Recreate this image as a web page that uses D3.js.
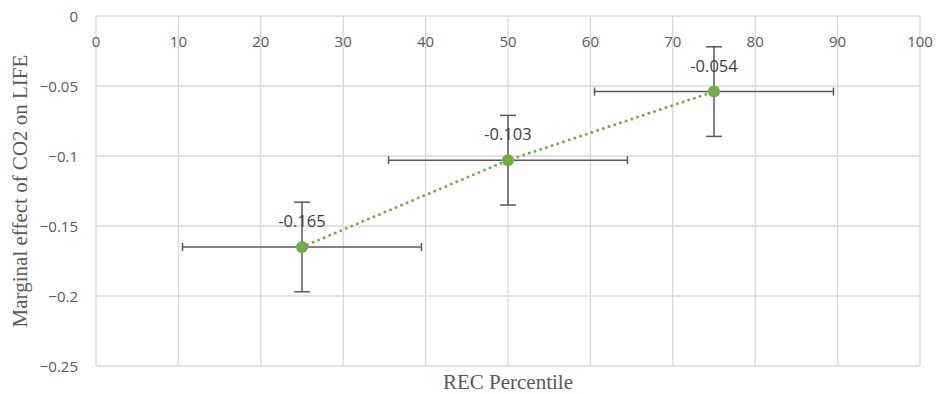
<!DOCTYPE html>
<html>
<head>
<meta charset="utf-8">
<script src="https://cdn.jsdelivr.net/npm/d3@7"></script>
<style>
  body { margin: 0; background: #fff; }
  svg { display: block; }
</style>
</head>
<body>
<svg id="chart" width="936" height="394"></svg>
<script>
// data
let percentiles = [25, 50, 75]
let effects = [-0.165, -0.103, -0.054]
let xErr = [14.5, 14.5, 14.5]
let yErr = [0.032, 0.032, 0.032]
let xTicks = [0, 10, 20, 30, 40, 50, 60, 70, 80, 90, 100]
let yTicks = [0, -0.05, -0.1, -0.15, -0.2, -0.25]

let svg = d3.select('#chart')
let plotLeft = 96, plotRight = 920, plotTop = 16, plotBottom = 366

let x = d3.scaleLinear().domain([0, 100]).range([plotLeft, plotRight])
let y = d3.scaleLinear().domain([-0.25, 0]).range([plotBottom, plotTop])

// grid
svg.append('g').selectAll('line').data(xTicks).join('line')
  .attr('x1', d => x(d)).attr('x2', d => x(d))
  .attr('y1', plotTop).attr('y2', plotBottom)
  .style('stroke', '#d9d9d9').style('stroke-width', 1.3)
svg.append('g').selectAll('line').data(yTicks).join('line')
  .attr('x1', plotLeft).attr('x2', plotRight)
  .attr('y1', d => y(d)).attr('y2', d => y(d))
  .style('stroke', '#d9d9d9').style('stroke-width', 1.3)

// tick labels
svg.append('g').selectAll('text').data(xTicks).join('text')
  .attr('x', d => x(d)).attr('y', plotTop + 31)
  .attr('text-anchor', 'middle')
  .style('font-family', 'Open Sans, Liberation Sans, sans-serif')
  .style('font-size', '15px').style('fill', '#595959')
  .text(d => d)
svg.append('g').selectAll('text').data(yTicks).join('text')
  .attr('x', plotLeft - 18).attr('y', d => y(d) + 6)
  .attr('text-anchor', 'end')
  .style('font-family', 'Open Sans, Liberation Sans, sans-serif')
  .style('font-size', '15px').style('fill', '#595959')
  .text(d => d3.format('')(d))

// axis titles
svg.append('text')
  .attr('x', (plotLeft + plotRight) / 2 + 0).attr('y', 389)
  .attr('text-anchor', 'middle')
  .style('font-family', 'Liberation Serif, serif')
  .style('font-size', '21px').style('fill', '#595959')
  .text('REC Percentile')
svg.append('text')
  .attr('transform', `translate(27,${(plotTop + plotBottom) / 2}) rotate(-90)`)
  .attr('text-anchor', 'middle')
  .style('font-family', 'Liberation Serif, serif')
  .style('font-size', '21px').style('fill', '#595959')
  .text('Marginal effect of CO2 on LIFE')

let pts = percentiles.map((p, i) => ({ p: p, e: effects[i], dx: xErr[i], dy: yErr[i] }))

// dotted trend line
let line = d3.line().x(d => x(d.p)).y(d => y(d.e))
svg.append('path').datum(pts)
  .attr('d', line)
  .style('fill', 'none').style('stroke', '#70ad47')
  .style('stroke-width', 3).style('stroke-dasharray', '0 6')
  .style('stroke-linecap', 'round')

// error bars
let eb = svg.append('g').style('stroke', '#595959').style('stroke-width', 1.5)
pts.forEach(d => {
  let cx = x(d.p), cy = y(d.e)
  let x0 = x(d.p - d.dx), x1 = x(d.p + d.dx)
  let y0 = y(d.e + d.dy), y1 = y(d.e - d.dy)
  eb.append('line').attr('x1', x0).attr('x2', x1).attr('y1', cy).attr('y2', cy)
  eb.append('line').attr('x1', x0).attr('x2', x0).attr('y1', cy - 4).attr('y2', cy + 4)
  eb.append('line').attr('x1', x1).attr('x2', x1).attr('y1', cy - 4).attr('y2', cy + 4)
  eb.append('line').attr('x1', cx).attr('x2', cx).attr('y1', y0).attr('y2', y1)
  eb.append('line').attr('x1', cx - 8).attr('x2', cx + 8).attr('y1', y0).attr('y2', y0)
  eb.append('line').attr('x1', cx - 8).attr('x2', cx + 8).attr('y1', y1).attr('y2', y1)
})

// markers
svg.append('g').selectAll('circle').data(pts).join('circle')
  .attr('cx', d => x(d.p)).attr('cy', d => y(d.e)).attr('r', 6)
  .style('fill', '#70ad47')

// data labels
svg.append('g').selectAll('text').data(pts).join('text')
  .attr('x', d => x(d.p)).attr('y', d => y(d.e) - 20)
  .attr('text-anchor', 'middle')
  .style('font-family', 'Open Sans, Liberation Sans, sans-serif')
  .style('font-size', '16.5px').style('fill', '#404040')
  .text(d => d.e)
</script>
</body>
</html>
